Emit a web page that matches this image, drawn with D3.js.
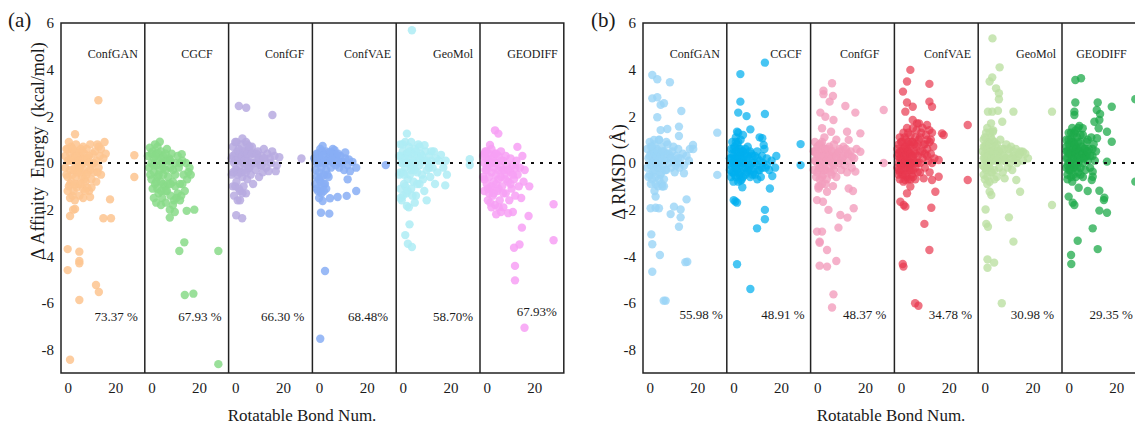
<!DOCTYPE html>
<html><head><meta charset="utf-8">
<script src="https://cdn.jsdelivr.net/npm/d3@7"></script>
<style>
body{margin:0;background:#fff}
svg{display:block}
svg text{font-family:"Liberation Serif","Times New Roman",Tinos,"DejaVu Serif",serif;fill:#1a1a1a}
</style>
</head><body>
<svg id="chart" width="1135" height="425"></svg>
<script>
// ---------- categories / labels ----------
const models = ["ConfGAN","CGCF","ConfGF","ConfVAE","GeoMol","GEODIFF"];
const pctA = ["73.37 %","67.93 %","66.30 %","68.48%","58.70%","67.93%"];
const pctB = ["55.98 %","48.91 %","48.37 %","34.78 %","30.98 %","29.35 %"];
const yTicks = [6,4,2,0,-2,-4,-6,-8];
const xTicks = [0,20];
const xTitle = "Rotatable Bond Num.";
const yTitleA = "Δ Affinity  Energy  (kcal/mol)";
const yTitleB = "Δ RMSD (Å)";

// ---------- (a) Δ Affinity energy: [rotatable bonds, Δ energy] ----------
const affConfGAN = [[12.9,2.69],[3.1,1.23],[28,0.33],[28,-0.6],[17.8,-1.56],[3.1,-1.97],[1,-2.27],[2.3,-2.0],[15,-2.37],[18.2,-2.37],[0,-3.69],[4.9,-3.8],[4.9,-4.2],[4.9,-4.3],[0,-4.59],[11.9,-5.23],[13.1,-5.53],[4.9,-5.87],[1,-8.43],
[-1,0.3],[-1,-0.2],[-0.5,0.6],[0,-0.6],[0,0.1],[0.5,0.9],[0.5,-1],[1,0.4],[1,-0.3],[1.5,0.7],[1.5,-0.8],[2,0.1],[2,-0.5],[2.5,0.5],[2.5,-1.2],[3,0.2],[3,-0.2],[3.5,0.8],[3.5,-0.6],[4,0],[4,0.5],[4.5,-0.9],[4.5,-0.3],[5,0.3],[5,-1.4],[5.5,0.6],[5.5,-0.1],[6,-0.6],[6,0.2],[6.5,0.7],[6.5,-1.1],[7,-0.3],[7,0.4],[7.5,-0.8],[8,0.1],[8,0.6],[8.5,-0.4],[9,0.3],[9,-1.2],[9.5,0.8],[10,-0.1],[10,-0.7],[10.5,0.4],[11,-0.4],[11.5,0.5],[12,0.1],[12,-0.8],[12.5,0.8],[13,-0.2],[13.5,0.3],[14,0.6],[14,-0.5],[15,0.2],[15.5,0.9],[16,0.4],[10,-1.05],[8.2,-1.05],[7.3,-1.2],[9.4,-1.46],[3.8,-1.05],[6.5,-1.5],[2,-1.4],
[0.5,0.1],[1.5,0.2],[2.5,-0.3],[3.5,0.3],[4.5,0.1],[5.5,-0.4],[6.5,0],[7.5,0.2],[8.5,0.2],[9.5,-0.3],[0,0.6],[1,-0.9],[2,0.6],[3,-0.9],[4,-0.4],[5,-0.2],[6,0.5],[7,-0.7],[8,-0.5],[9,0],[11,0],[12.5,-0.4],[13,0.7],[0,-1.2],[1,-1.5],[3,-1.6],[5.5,-0.9],[-0.5,-0.5]];
const affCGCF = [[3.5,0.91],[12.7,0.38],[15.5,-0.39],[7.7,-2],[9.8,-2.1],[14.8,-2.05],[18,-2],[7.7,-2.34],[13.8,-3.4],[11.7,-3.77],[28.1,-3.77],[14,-5.66],[17.6,-5.6],[28.1,-8.62],
[-1.5,0.3],[-1,-0.2],[-0.7,0.66],[0,0],[0,-0.7],[0.5,0.5],[0.5,-1.1],[1,0.2],[1,-0.4],[1.5,0.8],[1.5,-0.9],[2,-0.1],[2,0.4],[2.5,-0.6],[2.5,0.7],[3,0.1],[3,-1.3],[3.5,-0.3],[4,0.5],[4,-0.8],[4.5,0],[4.5,-1.5],[5,0.3],[5,-0.5],[5.5,-1],[6,0.1],[6,-0.3],[6.5,0.6],[6.5,-1.2],[7,-0.6],[7.5,0.2],[8,-0.2],[8,-1.4],[8.5,0.4],[9,-0.8],[9.5,-1.6],[10,0],[10,-0.5],[11,0.3],[11,-1.3],[11.5,-0.2],[12,-0.9],[12.5,-1.4],[13,0.1],[13.5,-0.5],[14,-1.2],[14.5,0],[15,-0.7],[16,-0.2],[16.5,-0.5],[2,-1.7],[6,-1.7],[4,-1.8],[9,-1.8],[1,-1.5],
[0,0.4],[1,-0.1],[2,-0.8],[3,0.4],[3,-0.5],[4,0.2],[5,-0.2],[5,-0.9],[6,0.4],[7,0.1],[7,-0.9],[8,0.1],[9,-0.3],[10,-1],[12,0],[13,-0.9],[-0.5,-0.5],[1.5,0.3],[2.5,-1.1],[4,-1.2],[6,-1.2],[8,-0.9],[10.5,-1.5],[12,-1.6]];
const affConfGF = [[1.5,2.44],[4.6,2.37],[15.6,2.06],[27.8,0.19],[0.4,-2.24],[2.9,-2.37],
[-1.5,0.2],[-1.5,-0.5],[-1,0.7],[-1,-1],[-0.5,0],[-0.5,-1.4],[0,0.4],[0,-0.3],[0.5,0.9],[0.5,-0.8],[1,0.1],[1,-1.6],[1.5,0.6],[1.5,-0.4],[2,-0.1],[2,-1.2],[2.5,0.8],[2.5,0.3],[3,-0.6],[3,1.05],[3.5,0],[3.5,-1],[4,0.5],[4,-0.3],[4.5,0.9],[5,0.1],[5,-0.7],[5.5,0.6],[6,-0.2],[6,0.3],[6.5,-0.5],[7,0.7],[7,0],[7.5,-0.9],[8,0.4],[8.5,-0.3],[9,0.1],[9.5,0.5],[10,-0.6],[10.5,-0.1],[11,0.3],[11.5,-0.4],[12,0.6],[12.5,0.1],[13,-0.2],[13.5,0.4],[14,-0.35],[14.5,0.2],[15,0],[15.5,0.5],[16.5,0.3],[17.5,-0.1],[18.5,0.25],[17,-0.35],[4.5,-1.3],[2,-1.6],[1,0.5],[5,0.8],
[-1,0.3],[0,0.1],[0.5,-0.3],[1,-0.5],[1.5,0.2],[2,0.4],[2.5,-0.4],[3,0.3],[3.5,0.5],[4,0.1],[4.5,-0.4],[5,0.4],[5.5,-0.2],[6,0.7],[7,0.4],[8,0],[9,0.4],[10,0.2],[11,-0.1],[12,0.2],[-1,-0.4],[0,-1],[1.5,-1.1],[3,-1.3],[0,0.9]];
const affConfVAE = [[1.5,0.73],[5.8,0.6],[6.5,0.55],[28,-0.09],[15.6,-0.2],[12,-0.7],[1.5,-1.63],[4.6,-1.51],[7.8,-1.46],[11.6,-1.41],[15.6,-1.2],[0.8,-2.13],[4.3,-2.17],[2.5,-4.63],[0.5,-7.53],
[-2,0.2],[-1.5,-0.3],[-1.5,-0.9],[-1,0.4],[-1,-0.6],[-0.5,0],[-0.5,-1.2],[0,0.3],[0,-0.4],[0.5,-0.8],[0.5,0.6],[1,0.1],[1,-0.2],[1.5,-1],[2,0.4],[2,-0.5],[2.5,0],[2.5,-0.9],[3,0.5],[3,-0.3],[3.5,0.1],[4,-0.6],[4,0.45],[4.5,0.2],[5,-0.2],[5.5,0.4],[6,0],[6.5,0.3],[7,-0.1],[7.5,0.35],[8,0.1],[8.5,-0.2],[9,0.3],[10,0.05],[10.5,-0.3],[11,0.2],[12,-0.1],[12.5,0.15],[13,-0.35],[14,0.05],[1,-1.3],[0,-1.5],[3,-1.1],
[-1.5,0.1],[-1,0],[-0.5,0.4],[0,0],[0,-0.7],[0.5,0.2],[1,0.5],[1,-0.6],[1.5,0.3],[2,0],[2,-0.9],[3,0.1],[3.5,-0.5],[4,0.15],[5,0.1],[5,0.45],[6,0.35],[7,0.2],[8,0.4],[9,0],[11,0.45],[-1,-1.1],[0.5,-1.2],[2,-1.2]];
const affGeoMol = [[1.7,1.26],[3.8,5.69],[9.1,0.76],[28.1,0.16],[28.1,-0.09],[17.8,-0.96],[1.7,-1.84],[2.8,-2.63],[1,-3.09],[2.1,-3.46],[3.8,-3.6],
[-1.5,0.3],[-1.5,-0.5],[-1,0.8],[-1,-1.1],[-0.5,0],[-0.5,-1.6],[0,0.5],[0,-0.4],[0.5,-0.9],[0.5,0.2],[1,0.9],[1,-0.2],[1.5,-1.3],[1.5,0.4],[2,0],[2,-0.7],[2.5,0.7],[2.5,-1.9],[3,0.2],[3,-0.5],[3.5,-1.1],[3.5,0.9],[4,0.4],[4,-0.2],[4.5,-0.8],[5,0.6],[5,0],[5.5,-1.4],[6,0.3],[6,-0.4],[6.5,0.8],[7,-0.1],[7,-0.9],[7.5,0.4],[8,-0.5],[8.5,0.1],[9,-1.2],[9.5,0.5],[10,-0.3],[10.5,0],[11,0.3],[11.5,-0.6],[12,0.1],[12.5,-0.2],[13,0.5],[13.5,-0.9],[14,0.2],[14.5,-0.4],[15,0.1],[16,0.35],[17,-0.2],[18,0.1],[18.5,-0.5],[7,0.7],[10,-1.6],[5,-1.7],
[-1,0.3],[-1,-0.4],[0,0],[0,0.8],[0.5,-0.5],[1,0.2],[1,-1],[1.5,0],[2,0.4],[2,-1.2],[3,0],[3,0.5],[3.5,-0.3],[4,-1.4],[4.5,0.1],[5,-0.3],[5.5,0.5],[6,-0.9],[7,0.2],[8,0.3],[8.5,-0.7],[9.5,0.1],[11,-0.2],[12,0.5],[0,-1.4],[-1,-1.5]];
const affGEODIFF = [[3.5,1.4],[4.9,1.26],[1.4,0.77],[12.9,0.69],[17.9,-1],[28.1,-1.77],[17.6,-2.27],[14.8,-2.77],[28.1,-3.31],[11.5,-3.63],[13.8,-3.49],[11.9,-4.41],[11.9,-5.03],[15.9,-7.06],
[-1.5,0.3],[-1.5,-0.6],[-1,0],[-1,-1.2],[-0.5,0.5],[-0.5,-0.3],[0,-0.9],[0,0.2],[0.5,-1.6],[0.5,-0.1],[1,0.4],[1,-0.6],[1.5,-1.1],[1.5,0],[2,0.6],[2,-0.4],[2.5,-1.4],[2.5,0.2],[3,-0.8],[3,-0.2],[3.5,0.4],[3.5,-1.8],[4,-0.5],[4,0],[4.5,-1.2],[5,0.3],[5,-0.7],[5.5,-1.6],[6,-0.2],[6,0.5],[6.5,-1],[7,0.1],[7,-1.9],[7.5,-0.5],[8,-1.3],[8,0.3],[8.5,-0.1],[9,-0.8],[9.5,-1.6],[10,0.2],[10,-0.4],[10.5,-1.1],[11,-0.1],[11,-2.1],[11.5,-0.7],[12,-1.4],[12.5,0.1],[13,-0.5],[13.5,-1],[14,-0.2],[14.5,-1.5],[15,0.3],[15.5,-0.8],[16,-0.3],[6,-2.1],[9,-2.15],[4,-2.2],[2,-1.9],
[-1,0.4],[-1,-0.7],[0,-0.3],[0,0.5],[0.5,-1.1],[1,0.1],[1,-1.3],[2,0],[2,-1],[3,0.3],[3,-1.3],[4,-0.9],[4,0.4],[5,-0.3],[5,-1.1],[6,0.1],[6,-0.6],[7,-0.3],[7,-1.3],[8,-0.7],[9,-0.3],[10,-0.9],[11,-0.5],[12,-0.2],[1.5,-1.7],[5,-1.9]];

// ---------- (b) Δ RMSD: [rotatable bonds, Δ RMSD] ----------
const rmsdConfGAN = [[1.1,3.77],[3.2,3.59],[8.5,3.46],[1.1,2.77],[3.2,2.82],[4.6,2.49],[6,2.56],[13.3,2.23],[3.2,1.96],[4.6,1.41],[7.4,1.46],[12.3,1.56],[12.3,1.16],[28.4,1.3],[1.8,0.99],[3.9,0.99],[18.2,0.77],[16.9,0.6],[18.3,0.6],[28.4,-0.51],[14.4,-0.44],[5.3,-1.01],[2.5,-1.44],[15.5,-1.56],[0.4,-1.94],[2.5,-1.92],[3.9,-1.94],[10.2,-1.87],[13,-1.99],[8.8,-2.19],[13,-2.33],[12.3,-2.73],[0.7,-3.06],[1.1,-3.48],[4.3,-3.94],[15.8,-4.23],[15,-4.25],[1.1,-4.66],[6.7,-5.9],[5.9,-5.9],
[-1,0.6],[-1,-0.2],[-0.5,0.2],[0,0.9],[0,-0.5],[0.5,0.4],[0.5,-0.1],[1,0.7],[1,-0.7],[1.5,0.1],[1.5,0.5],[2,-0.3],[2,0.8],[2.5,0.3],[2.5,-0.6],[3,0],[3,0.6],[3.5,-0.2],[4,0.4],[4,1],[4.5,-0.5],[5,0.2],[5,0.7],[5.5,-0.1],[6,0.5],[6,-0.7],[6.5,0.1],[7,0.4],[7,-0.3],[7.5,0.8],[8,0],[8.5,0.3],[9,-0.2],[9.5,0.5],[10,0.1],[10.5,-0.4],[11,0.3],[11.5,0],[12,0.6],[12.5,-0.2],[13,0.2],[14,0.4],[14.5,-0.1],[15.5,0.3],[16.5,0.1],[3.5,-1],[5,-0.9],[2,-1.2],
[0,0.3],[0.5,0.7],[1,0],[1.5,-0.4],[2,0.4],[2.5,0],[3,0.3],[3.5,0.5],[4,-0.1],[4.5,0.3],[5,-0.4],[5.5,0.5],[6,0.1],[6.5,-0.3],[7,0.9],[8,0.4],[9,0.2],[10,0.7],[11,-0.1],[12,0.2],[-0.5,-0.6],[0.5,-0.9],[2.5,-0.9],[4,-0.7],[6,-1]];
const rmsdCGCF = [[13.2,4.3],[2.9,3.81],[2.9,2.63],[2,2.16],[5.5,2.01],[13.2,2.1],[1.5,1.34],[2,1.3],[7.1,1.44],[12.1,1.06],[12.7,0.77],[28.2,0.81],[28.2,-0.09],[16.3,-0.56],[2,-0.8],[3.7,-1.04],[15.3,-1.09],[0.1,-1.59],[1.5,-1.7],[0.8,-1.65],[13.2,-2.01],[13.2,-2.41],[9.9,-2.8],[1.5,-4.34],[7.1,-5.4],
[-1.5,0.2],[-1.5,-0.3],[-1,0.6],[-1,-0.6],[-0.5,0],[-0.5,0.9],[0,0.3],[0,-0.4],[0.5,0.7],[0.5,-0.1],[1,0.2],[1,-0.6],[1.5,0.5],[1.5,-0.3],[2,0],[2,0.9],[2.5,0.3],[2.5,-0.5],[3,-0.1],[3,0.6],[3.5,0.2],[3.5,-0.7],[4,0.5],[4,-0.2],[4.5,0],[5,0.4],[5,-0.5],[5.5,0.1],[6,-0.3],[6,0.7],[6.5,0.2],[7,-0.1],[7,-0.6],[7.5,0.4],[8,0],[8.5,-0.4],[9,0.3],[9.5,-0.1],[10,0.5],[10.5,-0.3],[11,0.1],[11.5,-0.6],[12,0.3],[12.5,0],[13,0.6],[13.5,-0.2],[14,0.2],[15,-0.3],[16,0.1],[17.5,-0.2],[18,0.3],[11,1.1],[1,1.1],[4,1.2],[0,-0.8],[3,-0.75],[8,-0.5],[10,-0.7],
[-1,0.2],[-1,-0.1],[-0.5,0.4],[-0.5,-0.4],[0,0],[0,0.6],[0.5,0.2],[0.5,-0.5],[1,0.5],[1,-0.2],[1.5,0],[1.5,0.8],[2,0.3],[2,-0.4],[2.5,0],[2.5,0.6],[3,0.2],[3,-0.4],[3.5,0.5],[4,0],[4,-0.6],[4.5,0.3],[5,-0.2],[5,0.6],[5.5,-0.4],[6,0.3],[6.5,-0.2],[7,0.5],[7.5,-0.3],[8,0.3],[9,-0.5],[9,0],[10,0.2],[11,-0.3],[12,-0.2],[14,-0.1],[1,0.9],[3,1]];
const rmsdConfGF = [[6.2,3.42],[2.6,3.1],[2.6,2.95],[6.6,2.87],[5.2,2.63],[27.9,2.27],[11.8,2.44],[16,2.16],[1.3,2.16],[3.4,1.98],[6.8,1.84],[2,1.49],[5.8,1.34],[12.5,1.34],[18.1,1.27],[13.2,0.99],[18.1,0.48],[14.6,0.27],[27.9,0],[16,-0.37],[0.5,-1.09],[4.1,-1.23],[6.6,-0.99],[13.2,-1.09],[15,-1.2],[-0.1,-1.59],[2.4,-1.66],[4.7,-2.01],[9.7,-2.23],[12.7,-2.34],[15.3,-1.94],[8.9,-2.77],[-0.1,-2.94],[2,-2.94],[1,-3.37],[1,-3.42],[4.1,-3.73],[8,-4.2],[1,-4.4],[4.1,-4.44],[6.8,-5.63],[6.2,-6.19],
[-1.5,0.5],[-1.5,-0.3],[-1,0.1],[-1,0.9],[-0.5,-0.6],[-0.5,0.4],[0,0],[0,0.7],[0.5,-0.3],[0.5,0.3],[1,0.8],[1,-0.7],[1.5,0.1],[1.5,0.5],[2,-0.2],[2,0.9],[2.5,0.3],[2.5,-0.5],[3,0],[3,0.6],[3.5,-0.3],[4,0.4],[4,-0.7],[4.5,0.1],[5,0.7],[5,-0.2],[5.5,0.3],[6,-0.5],[6,0.5],[6.5,0],[7,0.8],[7,-0.3],[7.5,0.2],[8,-0.6],[8.5,0.4],[9,0],[9.5,0.6],[10,-0.3],[10.5,0.2],[11,0.7],[11.5,-0.1],[12,0.4],[12.5,-0.4],[13,0.1],[14,0.5],[14.5,-0.2],[15.5,0.2],[16.5,0.6],[8,1],[3,1.1],[0.5,-1],[2,-0.9],
[-1,0.5],[-0.5,0.1],[0,0.4],[0,-0.4],[0.5,0.7],[1,0.3],[1,-0.2],[1.5,0.8],[2,0.3],[2,-0.6],[2.5,0.6],[3,0.3],[3,-0.3],[3.5,0.6],[4,0.1],[4.5,0.6],[5,0.3],[5.5,-0.4],[6,0.2],[6.5,0.5],[7,-0.1],[8,0.3],[9,0.5],[10,0.1],[11,0.3],[12,0.6],[13,0.4],[1,-1],[3.5,-0.9]];
const rmsdConfVAE = [[3.9,3.99],[2.5,3.49],[11.9,3.39],[0.8,3.06],[2.5,2.59],[4.9,2.41],[11.9,2.63],[13,2.41],[1.8,2.2],[28,1.63],[4.9,1.84],[6.7,1.7],[10.9,1.63],[11.9,1.41],[17.2,1.27],[17.9,1.2],[15.8,0.13],[28,-0.73],[9.5,-0.66],[13,-0.73],[15.8,-0.59],[1.8,-0.73],[3.9,-1.01],[14.4,-1.23],[2.5,-1.3],[-0.3,-1.66],[1.1,-1.8],[1.8,-1.87],[12.7,-1.92],[9.8,-2.61],[11.9,-3.73],[0.7,-4.33],[1,-4.44],[5.9,-6.01],[7.3,-6.12],
[-1.5,0.3],[-1.5,-0.2],[-1,0.8],[-1,0],[-1,-0.5],[-0.5,0.5],[-0.5,1.1],[0,0.2],[0,-0.3],[0,0.9],[0.5,0.5],[0.5,-0.1],[1,1.3],[1,0.3],[1,-0.5],[1.5,0.7],[1.5,0],[2,1],[2,0.4],[2,-0.2],[2.5,1.5],[2.5,0.6],[2.5,-0.6],[3,0.1],[3,0.9],[3.5,0.4],[3.5,-0.3],[4,1.2],[4,0.7],[4,0],[4.5,0.3],[4.5,-0.5],[5,0.9],[5,1.5],[5.5,0.1],[5.5,0.5],[6,-0.2],[6,1.1],[6.5,0.7],[7,0.3],[7,-0.4],[7.5,1],[8,0.5],[8,0],[8.5,1.3],[9,0.2],[9.5,0.8],[10,-0.2],[10,0.4],[10.5,1.2],[11,0.6],[11.5,0.1],[12,0.9],[12.5,0.4],[13,1.3],[13.5,0.7],[14,0.2],[12,-0.4],[3,-0.7],[6,-0.7],[7.5,1.7],
[-1.5,0.6],[-1,0.4],[-1,-0.3],[-0.5,0.2],[-0.5,-0.4],[0,0.5],[0,-0.1],[0.5,0.9],[0.5,0.1],[0.5,-0.5],[1,0.6],[1,0],[1.5,0.3],[1.5,1.1],[1.5,-0.3],[2,0.7],[2,0.1],[2,-0.5],[2.5,0.3],[2.5,0],[3,0.5],[3,-0.2],[3,1.3],[3.5,0.8],[3.5,0],[4,0.4],[4,-0.3],[4.5,0.9],[4.5,0],[5,0.3],[5,-0.3],[5.5,0.8],[6,0.4],[6,0],[6.5,1.4],[7,0.8],[7,0],[8,1.1],[8,-0.4],[9,0.5],[9,1.5],[10,0.8],[11,0.3],[11,1],[12.5,1],[13,0],[-0.5,-0.7],[1,-0.8],[4,-0.7],[5,-0.6]];
const rmsdGeoMol = [[3.2,5.34],[6.2,4.1],[3.1,3.67],[2,3.49],[4.7,3.2],[5.9,2.99],[5.9,2.73],[1.3,2.2],[3.1,2.2],[5.5,2.24],[12,2.2],[28.2,2.2],[7.3,1.77],[2.6,1.7],[3.4,1.34],[16,0.48],[18.1,0.2],[8.3,-0.66],[13.2,-0.73],[2,-1.23],[2.7,-1.37],[14.8,-1.23],[28.2,-1.8],[0.3,-1.99],[10.1,-2.33],[0.6,-2.61],[1.3,-2.73],[12,-3.37],[1.1,-4.13],[3.9,-4.27],[1.1,-4.49],[7.1,-6.01],
[-1,0.5],[-1,-0.1],[-0.5,1],[-0.5,-0.5],[0,0.2],[0,0.7],[0.5,-0.3],[0.5,1.3],[1,0.4],[1,-0.6],[1.5,0],[1.5,0.9],[2,0.5],[2,-0.2],[2.5,1.1],[2.5,0.2],[3,-0.4],[3,0.7],[3.5,0.1],[4,0.9],[4,-0.3],[4.5,0.4],[5,-0.6],[5,0.8],[5.5,0.1],[6,0.5],[6,-0.2],[6.5,1],[7,0.3],[7.5,-0.4],[8,0.6],[8.5,0.1],[9,0.8],[9.5,-0.2],[10,0.4],[10.5,0],[11,0.7],[11.5,-0.3],[12,0.3],[13,0.6],[13.5,0],[14,0.3],[15,0.5],[16,0.1],[17,0.4],[1,1.5],[3.5,1.4],[0,-0.7],[2,-0.8],
[-0.5,0.2],[-0.5,0.7],[0,-0.2],[0,0.4],[0.5,0.8],[0.5,0.1],[1,0.6],[1,-0.2],[1.5,0.3],[2,0.8],[2,0],[2.5,0.5],[2.5,-0.4],[3,0.2],[3,1],[3.5,0.5],[4,0.2],[4.5,0.7],[5,0.1],[5.5,0.5],[6,0.2],[7,0.6],[7.5,0.1],[8,0.3],[9,0.2],[10,0.6],[11,0.2],[12,0.5],[13,0.2],[14.5,0.4],[0,1.1],[2,1.3],[1,-0.9],[4,-0.7]];
const rmsdGEODIFF = [[2.8,3.56],[5.2,3.63],[28,2.73],[2.8,2.59],[2.4,2.2],[2.4,2.06],[12.2,2.59],[11.8,2.27],[13.2,2.1],[12.9,1.84],[18.1,2.41],[10.8,1.77],[12.6,1.49],[11.9,1.06],[16.1,1.34],[18.1,0.91],[4.5,1.59],[5.9,1.49],[16.1,0.06],[10.1,-0.37],[9.7,-0.73],[10.1,-0.59],[28,-0.8],[4.2,-1.06],[8,-1.2],[12.9,-1.19],[0,-1.44],[1.7,-1.7],[2.4,-1.8],[15,-1.49],[14.8,-1.59],[12.9,-2.04],[16.1,-2.13],[10.1,-2.8],[3.8,-3.33],[12.2,-3.69],[1,-3.94],[1.1,-4.33],
[-1,0.5],[-1,-0.2],[-1,1],[-0.5,0.2],[-0.5,-0.5],[0,0.8],[0,0],[0,1.3],[0.5,0.4],[0.5,-0.3],[1,1],[1,0.1],[1,-0.6],[1.5,0.6],[1.5,1.5],[2,0.2],[2,-0.2],[2,0.9],[2.5,0.5],[2.5,1.3],[3,-0.1],[3,0.7],[3.5,0.3],[3.5,1.1],[4,-0.4],[4,0.6],[4.5,0.1],[5,0.9],[5,-0.2],[5.5,0.4],[6,1.2],[6,0],[6.5,0.6],[7,-0.3],[7,0.3],[7.5,0.9],[8,0.1],[8.5,0.6],[9,-0.2],[9.5,1.1],[10,0.3],[10.5,0.8],[11,0.1],[11.5,0.5],[3,-0.6],[1.5,-0.8],[6,-0.6],[4,1.5],
[-1,0.2],[-1,0.7],[-0.5,0.5],[-0.5,-0.1],[0,0.4],[0,1],[0,-0.3],[0.5,0.7],[0.5,0],[1,0.4],[1,1.3],[1,-0.3],[1.5,0.2],[1.5,0.9],[2,0.5],[2,1.2],[2.5,0],[2.5,0.8],[3,0.4],[3,1.4],[3.5,-0.2],[3.5,0.6],[4,0.2],[4,0.9],[4.5,0.5],[5,0.2],[5,1.2],[5.5,0.7],[6,0.4],[6.5,0.2],[7,0.6],[7.5,0.3],[8,0.5],[8,1],[9,0.3],[10,0.6],[-0.5,-0.7],[2,-0.5],[5,-0.5]];

const seriesA = [affConfGAN, affCGCF, affConfGF, affConfVAE, affGeoMol, affGEODIFF];
const seriesB = [rmsdConfGAN, rmsdCGCF, rmsdConfGF, rmsdConfVAE, rmsdGeoMol, rmsdGEODIFF];

// ---------- styles ----------
const colorsA = ["#FDC48F","#88DB88","#B7AAE0","#88AEF4","#AEECF4","#F7A0F4"];
const opacityA = [0.85,0.85,0.85,0.85,0.85,0.85];
const colorsB = ["#9AD5F6","#00AEEF","#F39DBD","#E8374F","#BCE0A2","#1DAA4A"];
const opacityB = [0.8,0.72,0.8,0.7,0.8,0.75];

const svg = d3.select("#chart");
const plotTop = 23, plotBottom = 373, subW = 83.8;
const y = d3.scaleLinear().domain([-9, 6]).range([plotBottom, plotTop]);

const panels = [
  {tag:"(a)", tagX:8, left:61, series:seriesA, colors:colorsA, opac:opacityA, pcts:pctA,
   title:yTitleA, titleX:44, titleY:151, xTitleX:302,
   labelOff:[7,16,8,5,7,6], pctOff:[7,7,8,8,7,7], pctY:[321,321,321,321,321,316]},
  {tag:"(b)", tagX:591, left:643, series:seriesB, colors:colorsB, opac:opacityB, pcts:pctB,
   title:yTitleB, titleX:625, titleY:172, xTitleX:891,
   labelOff:[7,9,15,7,6,19], pctOff:[4,6,8,6,8,13], pctY:[319,319,319,319,319,319]}
];

panels.forEach(p => {
  const g = svg.append("g");
  const right = p.left + subW * 6;

  models.forEach((m, i) => {
    const x0 = p.left + i * subW;
    const x = d3.scaleLinear().domain([-2.8, 32.4]).range([x0, x0 + subW]);
    g.append("g").selectAll("circle").data(p.series[i]).join("circle")
      .attr("cx", d => x(d[0])).attr("cy", d => y(d[1])).attr("r", 4.2)
      .attr("fill", p.colors[i]).attr("fill-opacity", p.opac[i]);

    const ax = g.append("g").attr("transform", `translate(0,${plotBottom})`)
      .call(d3.axisBottom(x).tickValues(xTicks).tickSize(0).tickPadding(9));
    ax.select(".domain").remove();
    ax.selectAll("text").attr("font-size", 15);

    g.append("text").attr("x", x0 + subW - p.labelOff[i]).attr("y", 58)
      .attr("text-anchor", "end").attr("font-size", 12).text(m);
    g.append("text").attr("x", x0 + subW - p.pctOff[i]).attr("y", p.pctY[i])
      .attr("text-anchor", "end").attr("font-size", 13).text(p.pcts[i]);
  });

  g.append("line").attr("x1", p.left + 2).attr("x2", right).attr("y1", y(0)).attr("y2", y(0))
    .attr("stroke", "#111").attr("stroke-width", 2).attr("stroke-dasharray", "3,6");

  g.append("rect").attr("x", p.left).attr("y", plotTop).attr("width", right - p.left).attr("height", plotBottom - plotTop)
    .attr("fill", "none").attr("stroke", "#222").attr("stroke-width", 1.5);
  for (let i = 1; i < 6; i++) {
    g.append("line").attr("x1", p.left + i * subW).attr("x2", p.left + i * subW)
      .attr("y1", plotTop).attr("y2", plotBottom).attr("stroke", "#222").attr("stroke-width", 1.5);
  }

  const ay = g.append("g").attr("transform", `translate(${p.left},0)`)
    .call(d3.axisLeft(y).tickValues(yTicks).tickSize(0).tickPadding(7).tickFormat(d => String(d)));
  ay.select(".domain").remove();
  ay.selectAll("text").attr("font-size", 15);

  g.append("text").attr("transform", `translate(${p.titleX},${p.titleY}) rotate(-90)`)
    .attr("text-anchor", "middle").attr("font-size", 18)
    .style("white-space", "pre").text(p.title);
  g.append("text").attr("x", p.xTitleX).attr("y", 421).attr("text-anchor", "middle")
    .attr("font-size", 17).text(xTitle);
  g.append("text").attr("x", p.tagX).attr("y", 27).attr("font-size", 21).text(p.tag);
});
</script>
</body></html>
